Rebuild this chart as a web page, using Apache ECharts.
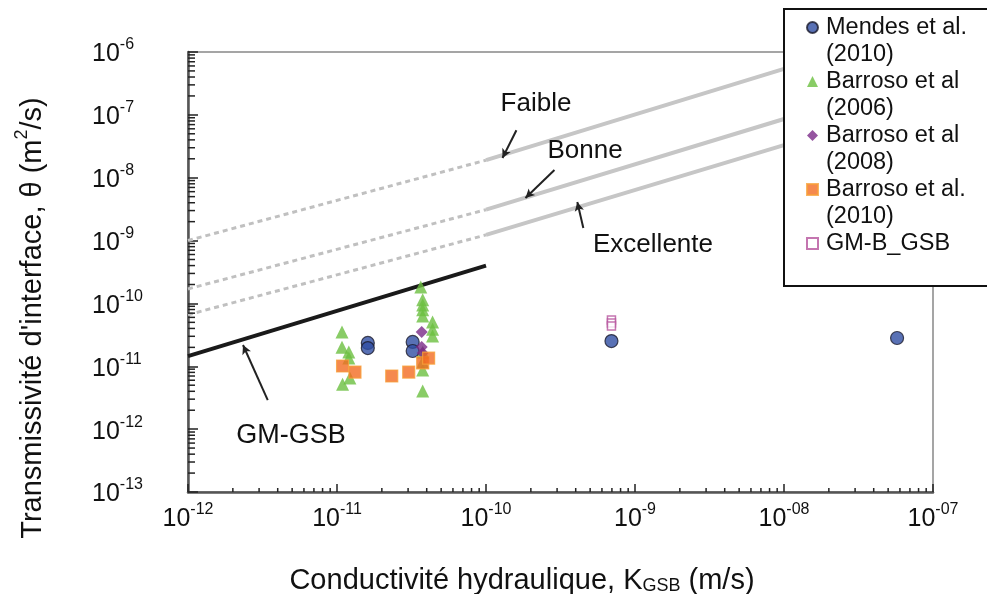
<!DOCTYPE html>
<html><head><meta charset="utf-8">
<script src="https://cdn.jsdelivr.net/npm/echarts@6/dist/echarts.min.js"></script>
<style>html,body{margin:0;padding:0;background:#fff}#c{width:987px;height:594px}</style>
</head><body><div id="c"></div>
<script>
// ---- tick labels (exponents of 10) ----
const xExponentLabels = ['-12', '-11', '-10', '-9', '-08', '-07'];
const yExponentLabels = ['-13', '-12', '-11', '-10', '-9', '-8', '-7', '-6'];

// ---- scatter series [K (m/s), theta (m2/s)] ----
const mendes2010 = [[1.61e-11, 2.35e-11], [1.61e-11, 1.95e-11], [3.22e-11, 2.44e-11], [3.22e-11, 1.75e-11], [6.95e-10, 2.52e-11], [5.74e-8, 2.82e-11]];
const barroso2006 = [[1.08e-11, 3.5e-11], [1.08e-11, 2.0e-11], [1.2e-11, 1.69e-11], [1.2e-11, 1.35e-11], [1.22e-11, 6.5e-12], [1.09e-11, 5.2e-12],
  [3.65e-11, 1.83e-10], [3.76e-11, 1.14e-10], [3.76e-11, 9.4e-11], [3.76e-11, 7.9e-11], [3.76e-11, 6.3e-11], [4.38e-11, 5.07e-11], [4.38e-11, 3.9e-11], [4.38e-11, 3.03e-11],
  [3.76e-11, 1.69e-11], [3.76e-11, 1.17e-11], [3.76e-11, 8.7e-12], [3.76e-11, 4.05e-12]];
const barroso2008 = [[3.7e-11, 3.5e-11], [3.7e-11, 2.03e-11], [3.76e-11, 1.63e-11]];
const barroso2010 = [[1.09e-11, 1.01e-11], [1.32e-11, 8.1e-12], [2.33e-11, 7.0e-12], [3.03e-11, 8.1e-12], [3.76e-11, 1.13e-11], [4.12e-11, 1.35e-11]];
const gmBGSB = [[6.95e-10, 5.46e-11], [6.95e-10, 4.89e-11], [6.95e-10, 4.38e-11]];

// ---- reference lines ----
const faibleDashed = [[1e-12, 1.0e-9], [1e-10, 1.9e-8]];
const faibleSolid = [[1e-10, 1.9e-8], [1e-8, 5.4e-7], [1.5e-8, 7.2e-7]];
const bonneDashed = [[1e-12, 1.7e-10], [1e-10, 3.1e-9]];
const bonneSolid = [[1e-10, 3.1e-9], [1e-8, 8.6e-8], [1.5e-8, 1.15e-7]];
const excellenteDashed = [[1e-12, 6.6e-11], [1e-10, 1.23e-9]];
const excellenteSolid = [[1e-10, 1.23e-9], [1e-8, 3.3e-8], [1.5e-8, 4.4e-8]];
const gmGSBLine = [[1e-12, 1.45e-11], [1e-10, 4.0e-10]];

// ---- annotation arrows [from, to] ----
const arrows = [
  [[1.6e-10, 5.7e-8], [1.29e-10, 2.06e-8]],
  [[2.88e-10, 1.33e-8], [1.84e-10, 4.75e-9]],
  [[4.5e-10, 1.58e-9], [4.1e-10, 4.1e-9]],
  [[3.43e-12, 2.9e-12], [2.34e-12, 2.18e-11]]
];

const seriesNames = ['Mendes et al. (2010)', 'Barroso et al (2006)', 'Barroso et al (2008)', 'Barroso et al. (2010)', 'GM-B_GSB'];
const legendLabels = [' \nMendes et al.\n(2010)', ' \nBarroso et al\n(2006)', ' \nBarroso et al\n(2008)', ' \nBarroso et al.\n(2010)', ' \nGM-B_GSB\n '];

const minorMultipliers = [2, 3, 4, 5, 6, 7, 8, 9];
const xDecades = [-12, -11, -10, -9, -8];
const yDecades = [-13, -12, -11, -10, -9, -8, -7];

const FONT = "'Liberation Sans', Arial, sans-serif";
const X_MIN = 1e-12, X_MAX = 1e-7, Y_MIN = 1e-13, Y_MAX = 1e-6;

const xMinor = [], yMinor = [];
xDecades.forEach(e => minorMultipliers.forEach(m => xMinor.push([m * Math.pow(10, e), Y_MIN])));
yDecades.forEach(e => minorMultipliers.forEach(m => yMinor.push([X_MIN, m * Math.pow(10, e)])));

const expOf = v => Math.round(Math.log10(v));
const tickRich = {
  b: { fontSize: 25, fontFamily: FONT, color: '#111', lineHeight: 30, verticalAlign: 'bottom' },
  s: { fontSize: 16, fontFamily: FONT, color: '#111', lineHeight: 16, verticalAlign: 'top' }
};

const chart = echarts.init(document.getElementById('c'), null, { renderer: 'canvas' });

function lineSeries(data, dashed, color, width) {
  return {
    type: 'line', data: data, showSymbol: false, symbol: 'none', silent: true, z: 1,
    lineStyle: { color: color, width: width, type: dashed ? [5, 4] : 'solid', cap: 'butt' }
  };
}

const option = {
  backgroundColor: '#fff',
  animation: false,
  grid: { left: 188, right: 54, top: 52, bottom: 102, show: true, borderColor: '#888', borderWidth: 1.5, backgroundColor: 'transparent' },
  xAxis: {
    type: 'log', logBase: 10, min: X_MIN, max: X_MAX, interval: 1, splitNumber: 5,
    axisLine: { show: true, lineStyle: { color: '#555', width: 2.5 } },
    axisTick: { show: true, inside: true, length: 8, lineStyle: { color: '#222', width: 1.5 } },
    splitLine: { show: false }, minorTick: { show: false },
    axisLabel: {
      margin: 10,
      formatter: v => '{b|10}{s|' + xExponentLabels[expOf(v) + 12] + '}',
      rich: tickRich
    }
  },
  yAxis: {
    type: 'log', logBase: 10, min: Y_MIN, max: Y_MAX, interval: 1, splitNumber: 7,
    axisLine: { show: true, lineStyle: { color: '#555', width: 2.5 } },
    axisTick: { show: true, inside: true, length: 10, lineStyle: { color: '#222', width: 1.5 } },
    splitLine: { show: false }, minorTick: { show: false },
    axisLabel: {
      margin: 96, align: 'left',
      formatter: v => '{b|10}{s|' + yExponentLabels[expOf(v) + 13] + '}',
      rich: tickRich
    }
  },
  legend: {
    orient: 'vertical', left: 801, top: -18, z: 20,
    itemWidth: 11, itemHeight: 11, itemGap: -27,
    data: seriesNames,
    formatter: name => legendLabels[seriesNames.indexOf(name)],
    textStyle: { fontSize: 23.5, fontFamily: FONT, color: '#111', lineHeight: 27, padding: [0, 0, 0, 3] }
  },
  graphic: [
    { type: 'rect', z: 15, shape: { x: 784, y: 9, width: 230, height: 277 }, style: { fill: '#fff', stroke: '#111', lineWidth: 2 } },
    { type: 'text', x: 536, y: 104, z: 5, style: { text: 'Faible', fontSize: 26, fontFamily: FONT, fill: '#111', align: 'center', verticalAlign: 'middle', textAlign: 'center', textVerticalAlign: 'middle' } },
    { type: 'text', x: 585, y: 151, z: 5, style: { text: 'Bonne', fontSize: 26, fontFamily: FONT, fill: '#111', align: 'center', verticalAlign: 'middle', textAlign: 'center', textVerticalAlign: 'middle' } },
    { type: 'text', x: 653, y: 245, z: 5, style: { text: 'Excellente', fontSize: 26, fontFamily: FONT, fill: '#111', align: 'center', verticalAlign: 'middle', textAlign: 'center', textVerticalAlign: 'middle' } },
    { type: 'text', x: 291, y: 436, z: 5, style: { text: 'GM-GSB', fontSize: 27, fontFamily: FONT, fill: '#111', align: 'center', verticalAlign: 'middle', textAlign: 'center', textVerticalAlign: 'middle' } },
    { type: 'text', x: 522, y: 578, z: 5, style: {
        text: '{a|Conductivité hydraulique, K}{sub|GSB}{a| (m/s)}', align: 'center', verticalAlign: 'middle', textAlign: 'center', textVerticalAlign: 'middle',
        rich: { a: { fontSize: 29, fontFamily: FONT, fill: '#111', color: '#111', lineHeight: 34, verticalAlign: 'bottom' },
                sub: { fontSize: 18, fontFamily: FONT, fill: '#111', color: '#111', lineHeight: 26, verticalAlign: 'bottom' } } } },
    { type: 'text', x: 30, y: 318, z: 5, rotation: Math.PI / 2, style: {
        text: "{a|Transmissivité d'interface, θ (m}{sup|2}{a|/s)}", align: 'center', verticalAlign: 'middle', textAlign: 'center', textVerticalAlign: 'middle',
        rich: { a: { fontSize: 29, fontFamily: FONT, fill: '#111', color: '#111', lineHeight: 34, verticalAlign: 'bottom' },
                sup: { fontSize: 18, fontFamily: FONT, fill: '#111', color: '#111', lineHeight: 19, verticalAlign: 'top' } } } }
  ],
  series: [
    lineSeries(faibleDashed, true, '#c0c0c0', 3),
    lineSeries(faibleSolid, false, '#c6c6c6', 4),
    lineSeries(bonneDashed, true, '#c0c0c0', 3),
    lineSeries(bonneSolid, false, '#c6c6c6', 4),
    lineSeries(excellenteDashed, true, '#c0c0c0', 3),
    lineSeries(excellenteSolid, false, '#c6c6c6', 4),
    Object.assign(lineSeries(gmGSBLine, false, '#1a1a1a', 4), {
      markLine: {
        silent: true, symbol: ['none', 'arrow'], symbolSize: [7, 9], label: { show: false },
        lineStyle: { color: '#222', width: 2, type: 'solid' },
        data: arrows.map(a => [{ coord: a[0] }, { coord: a[1] }])
      }
    }),
    { name: seriesNames[1], type: 'scatter', data: barroso2006, symbol: 'triangle', symbolSize: 13, z: 3,
      itemStyle: { color: '#6cbf40' } },
    { name: seriesNames[0], type: 'scatter', data: mendes2010, symbol: 'circle', symbolSize: 13, z: 4,
      itemStyle: { color: '#2f4ea3', borderColor: '#1c1c2c', borderWidth: 1.2 } },
    { name: seriesNames[2], type: 'scatter', data: barroso2008, symbol: 'diamond', symbolSize: 12, z: 4,
      itemStyle: { color: '#7b2b88' } },
    { name: seriesNames[3], type: 'scatter', data: barroso2010, symbol: 'rect', symbolSize: 12, z: 4,
      itemStyle: { color: '#f26b22', borderColor: '#f7a03a', borderWidth: 1.2 } },
    { name: seriesNames[4], type: 'scatter', data: gmBGSB, symbol: 'rect', symbolSize: 8, z: 4,
      itemStyle: { color: '#fff', borderColor: '#b5529c', borderWidth: 1.5 } },
    { type: 'custom', data: xMinor, silent: true, z: 5, clip: false,
      renderItem: (params, api) => {
        const p = api.coord([api.value(0), api.value(1)]);
        return { type: 'line', shape: { x1: p[0], y1: p[1], x2: p[0], y2: p[1] - 4 }, style: { stroke: '#222', lineWidth: 1.5 } };
      } },
    { type: 'custom', data: yMinor, silent: true, z: 5, clip: false,
      renderItem: (params, api) => {
        const p = api.coord([api.value(0), api.value(1)]);
        return { type: 'line', shape: { x1: p[0], y1: p[1], x2: p[0] + 7, y2: p[1] }, style: { stroke: '#222', lineWidth: 1.5 } };
      } }
  ]
};
chart.setOption(option);
</script>
</body></html>
